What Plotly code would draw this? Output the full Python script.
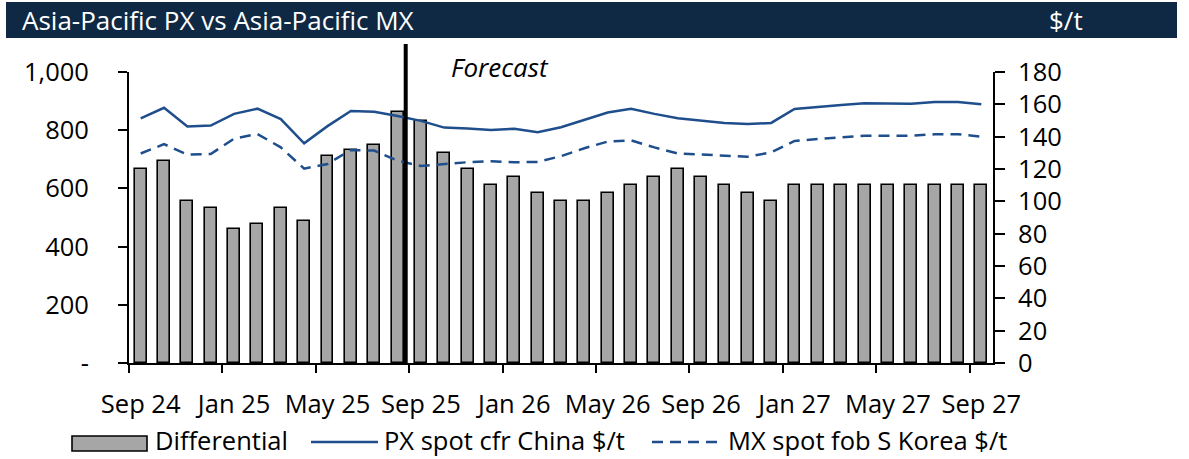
import plotly.graph_objects as go

months = ["Sep 24", "Oct 24", "Nov 24", "Dec 24", "Jan 25", "Feb 25", "Mar 25", "Apr 25",
          "May 25", "Jun 25", "Jul 25", "Aug 25", "Sep 25", "Oct 25", "Nov 25", "Dec 25",
          "Jan 26", "Feb 26", "Mar 26", "Apr 26", "May 26", "Jun 26", "Jul 26", "Aug 26",
          "Sep 26", "Oct 26", "Nov 26", "Dec 26", "Jan 27", "Feb 27", "Mar 27", "Apr 27",
          "May 27", "Jun 27", "Jul 27", "Aug 27", "Sep 27"]

differential = [120, 125, 100, 96, 83, 86, 96, 88, 128, 132, 135, 155,
                150, 130, 120, 110, 115, 105, 100, 100, 105, 110, 115, 120,
                115, 110, 105, 100, 110, 110, 110, 110, 110, 110, 110, 110, 110]

px_china = [841, 877, 813, 816, 856, 874, 838, 755, 814, 866, 863, 849,
            832, 809, 806, 801, 805, 793, 810, 836, 861, 874, 856, 841,
            834, 825, 821, 825, 873, 881, 887, 893, 891, 891, 897, 897, 889]

mx_korea = [720, 752, 716, 718, 771, 787, 741, 668, 684, 732, 730, 695,
            677, 683, 690, 693, 690, 691, 711, 738, 761, 765, 741, 720,
            717, 712, 709, 724, 763, 770, 775, 781, 781, 781, 786, 786, 778]

left_ticks = [0, 200, 400, 600, 800, 1000]
left_labels = ["-", "200", "400", "600", "800", "1,000"]
right_ticks = [0, 20, 40, 60, 80, 100, 120, 140, 160, 180]

forecast_start = 11.35  # position of forecast divider (between Aug 25 and Sep 25)

W, H = 1189, 459
L, R, T, B = 129, 993, 72, 363
FONT = "Open Sans"
NAVY = "#1f4e8c"
FS_TICK = 25.5
FS_TEXT = 26
FS_LEG = 25.5


def pxx(p):
    return (p - L) / (R - L)


def pxy(p):
    return (B - p) / (B - T)


idx = list(range(len(months)))

fig = go.Figure()
fig.add_trace(go.Bar(
    x=idx, y=differential, name="Differential",
    marker=dict(color="#a6a6a6", line=dict(color="black", width=1.6)),
    width=0.51, xaxis="x", yaxis="y", showlegend=False))
fig.add_trace(go.Scatter(
    x=idx, y=px_china, name="PX spot cfr China $/t", mode="lines",
    line=dict(color=NAVY, width=2.5), xaxis="x2", yaxis="y2", showlegend=False))
fig.add_trace(go.Scatter(
    x=idx, y=mx_korea, name="MX spot fob S Korea $/t", mode="lines",
    line=dict(color=NAVY, width=2.5, dash="11px,7px"), xaxis="x2", yaxis="y2",
    showlegend=False))

xr = [-0.5, len(months) - 0.5]
label_vals = idx[::4]
label_text = [months[i] for i in label_vals]
bound_vals = [v - 0.5 for v in label_vals]

shapes = [
    # header band
    dict(type="rect", xref="paper", yref="paper", x0=pxx(6), x1=pxx(1177),
         y0=pxy(38), y1=pxy(2), fillcolor="#0f2843", line=dict(width=0), layer="above"),
    # forecast divider
    dict(type="line", xref="x", yref="paper", x0=forecast_start, x1=forecast_start,
         y0=0, y1=pxy(44), line=dict(color="black", width=4), layer="above"),
    # legend symbols
    dict(type="rect", xref="paper", yref="paper", x0=pxx(72), x1=pxx(147),
         y0=pxy(451), y1=pxy(436), fillcolor="#a6a6a6",
         line=dict(color="black", width=1.6)),
    dict(type="line", xref="paper", yref="paper", x0=pxx(311), x1=pxx(378),
         y0=pxy(442), y1=pxy(442), line=dict(color=NAVY, width=2.5)),
    dict(type="line", xref="paper", yref="paper", x0=pxx(652), x1=pxx(722),
         y0=pxy(442), y1=pxy(442), line=dict(color=NAVY, width=2.5, dash="11px,7px")),
]

LEG_Y = pxy(458.5)

annotations = [
    dict(text="Asia-Pacific PX vs Asia-Pacific MX", xref="paper", yref="paper",
         x=pxx(20), y=pxy(20), xanchor="left", yanchor="middle", showarrow=False,
         font=dict(family=FONT, size=FS_TEXT, color="white")),
    dict(text="$/t", xref="paper", yref="paper", x=pxx(1085), y=pxy(20),
         xanchor="right", yanchor="middle", showarrow=False,
         font=dict(family=FONT, size=FS_TEXT, color="white")),
    dict(text="<i>Forecast</i>", xref="paper", yref="paper", x=pxx(500), y=pxy(67),
         xanchor="center", yanchor="middle", showarrow=False,
         font=dict(family=FONT, size=FS_TEXT, color="black")),
    dict(text="Differential", xref="paper", yref="paper", x=pxx(153), y=LEG_Y,
         xanchor="left", yanchor="bottom", showarrow=False,
         font=dict(family=FONT, size=FS_LEG, color="black")),
    dict(text="PX spot cfr China $/t", xref="paper", yref="paper", x=pxx(382), y=LEG_Y,
         xanchor="left", yanchor="bottom", showarrow=False,
         font=dict(family=FONT, size=FS_LEG, color="black")),
    dict(text="MX spot fob S Korea $/t", xref="paper", yref="paper", x=pxx(726), y=LEG_Y,
         xanchor="left", yanchor="bottom", showarrow=False,
         font=dict(family=FONT, size=FS_LEG, color="black")),
]

fig.update_layout(
    width=W, height=H,
    margin=dict(l=L, r=W - R, t=T, b=H - B, pad=0),
    paper_bgcolor="white", plot_bgcolor="white",
    font=dict(family=FONT, size=FS_TICK, color="black"),
    bargap=0,
    xaxis=dict(range=xr, tickmode="array", tickvals=label_vals, ticktext=label_text,
               ticks="", showgrid=False, zeroline=False, showline=True,
               linecolor="black", linewidth=2, ticklabelstandoff=17,
               tickfont=dict(family=FONT, size=FS_TICK)),
    xaxis2=dict(range=xr, overlaying="x", anchor="y", side="bottom", tickmode="array",
                tickvals=bound_vals, showticklabels=False, ticks="outside", ticklen=9,
                tickwidth=2, tickcolor="black", showgrid=False, zeroline=False,
                showline=False),
    yaxis=dict(range=[0, 180], side="right", tickmode="array", tickvals=right_ticks,
               ticks="outside", ticklen=10, tickwidth=2, tickcolor="black",
               showline=True, linecolor="black", linewidth=2, showgrid=False,
               zeroline=False, ticklabelstandoff=8, tickfont=dict(family=FONT, size=FS_TICK)),
    yaxis2=dict(range=[0, 1000], side="left", overlaying="y", anchor="x", tickmode="array",
                tickvals=left_ticks, ticktext=left_labels, ticks="outside", ticklen=9,
                tickwidth=2, tickcolor="black", showline=True, linecolor="black",
                linewidth=2, showgrid=False, zeroline=False, ticklabelstandoff=24,
                tickfont=dict(family=FONT, size=FS_TICK)),
    shapes=shapes, annotations=annotations,
)

fig.write_html("out.html")
